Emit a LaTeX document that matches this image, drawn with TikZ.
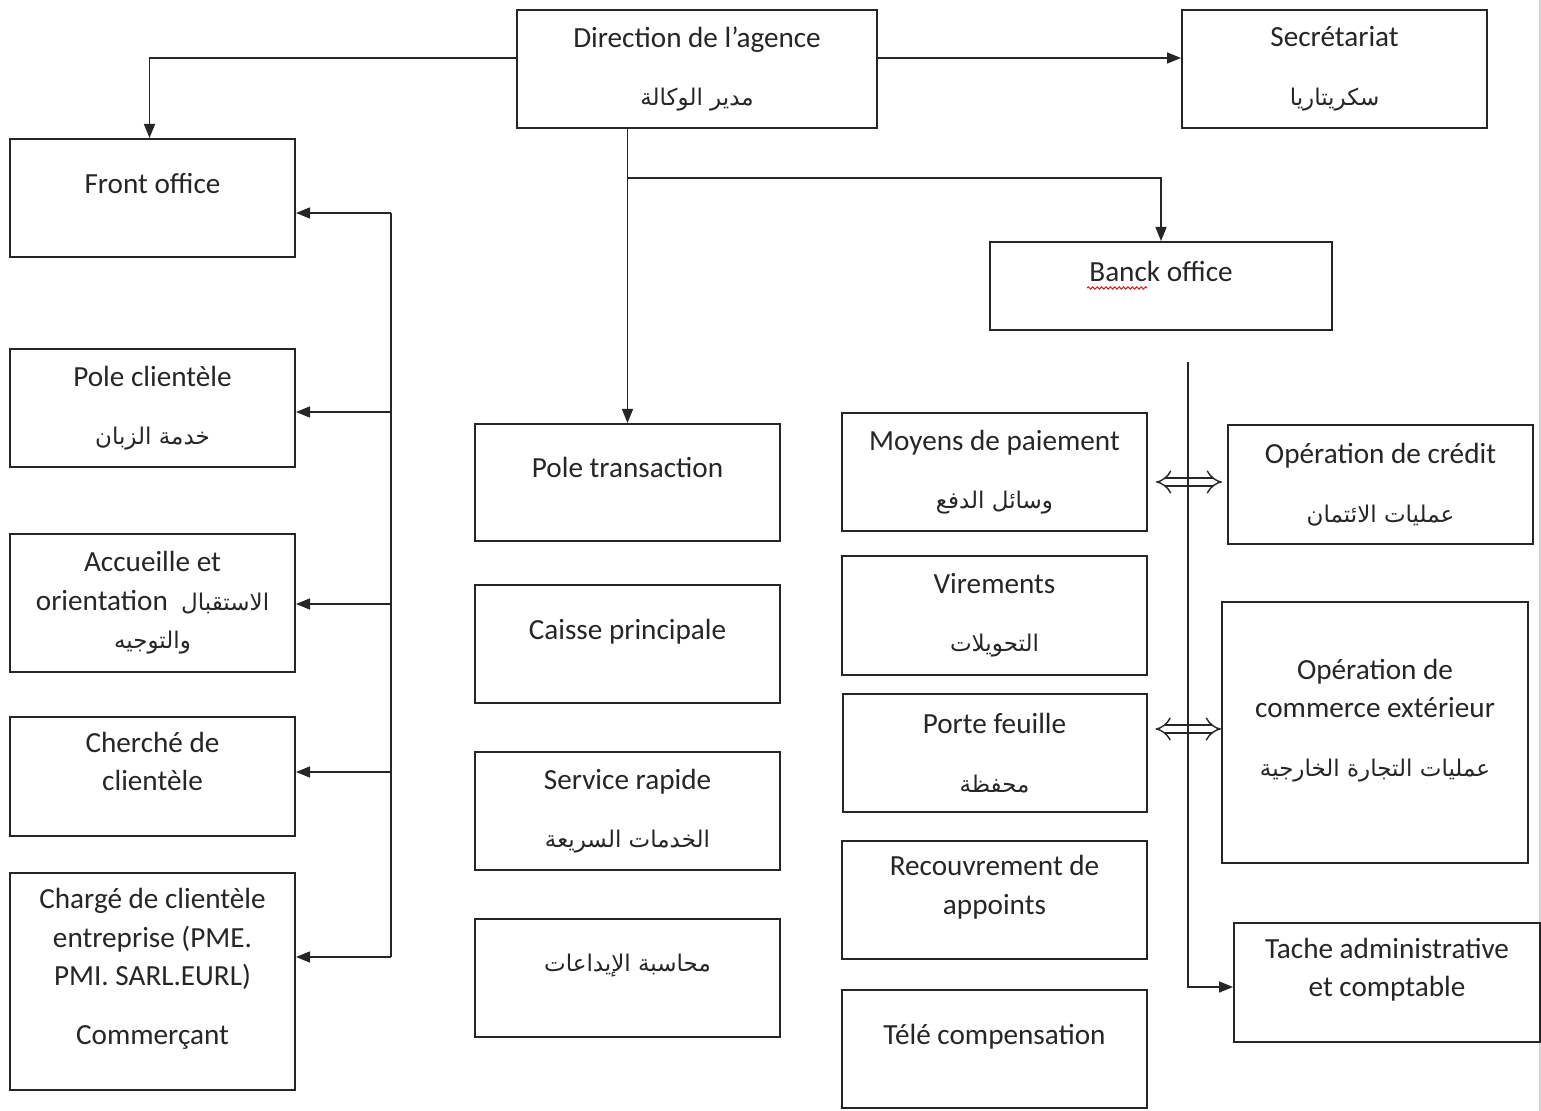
\documentclass[tikz,border=0pt]{standalone}
\usepackage{fontspec}
\setmainfont{Carlito}
\newfontfamily\arabicfont[Script=Arabic]{DejaVu Sans}
\TeXXeTstate=1
\usetikzlibrary{arrows.meta,positioning,calc,decorations.pathmorphing}
\definecolor{frameline}{HTML}{262626}
\definecolor{pageedge}{HTML}{D4D4D4}
\definecolor{spellred}{HTML}{D02020}
\newcommand{\ar}[1]{{\arabicfont\fontsize{11.5}{19.25}\selectfont\beginR #1\endR}}
\newcommand{\lift}{\\[-4.25pt]\mbox{}}

\begin{document}
\begin{tikzpicture}[x=0.5pt,y=-0.5pt,
 box/.style={draw=frameline,line width=1pt,align=center,inner sep=2pt,minimum width=152.5pt,minimum height=59pt,text=frameline,font=\fontsize{14.6}{19.25}\selectfont},
 leftbox/.style={box,minimum width=142.5pt},
 arr/.style={draw=frameline,line width=0.75pt,-{Triangle[length=7pt,width=5.5pt]}},
 line/.style={draw=frameline,line width=0.75pt},
 dbl/.style={draw=frameline,line width=0.7pt,double,double distance=3.4pt,{Implies[length=6pt,width=13pt]}-{Implies[length=6pt,width=13pt]}},
 wavy/.style={draw=spellred,line width=0.5pt,decorate,decoration={snake,amplitude=0.6pt,segment length=2.2pt}}]
\useasboundingbox (0,0) rectangle (1541,1111);
\fill[white] (0,0) rectangle (1541,1111);
\draw[pageedge,line width=1pt] (1540,0) -- (1540,1111);

% top row
\node[box,minimum width=180pt] (dir) at (697,69) {Direction de l’agence\\[10pt]\ar{مدير الوكالة}};
\node[box] (sec) at (1334.5,69) {Secrétariat\\[10pt]\ar{سكريتاريا}};

% front office column
\node[leftbox] (front) at (152.5,198) {Front office\lift};
\node[leftbox,below=45pt of front] (pole) {Pole clientèle\\[10pt]\ar{خدمة الزبان}};
\node[leftbox,minimum height=69pt,below=32.5pt of pole] (acc) {Accueille et\\orientation\ \ \ar{الاستقبال}\\\ar{والتوجيه}};
\node[leftbox,minimum height=59.5pt,below=21.5pt of acc] (cher) {Cherché de\\clientèle\lift};
\node[leftbox,minimum height=108.5pt,below=17.5pt of cher] (charge) {Chargé de clientèle\\entreprise (PME.\\PMI. SARL.EURL)\\[10pt]Commerçant\lift};

% pole transaction column
\node[box,minimum height=58.5pt] (trans) at (627.5,482.5) {Pole transaction\lift};
\node[box,below=21pt of trans] (caisse) {Caisse principale\lift};
\node[box,below=23.5pt of caisse] (rapide) {Service rapide\\[10pt]\ar{الخدمات السريعة}};
\node[box,below=23.5pt of rapide] (compta) {\ar{محاسبة الإيداعات}\lift};

% back office
\node[box,minimum width=171pt,minimum height=44pt] (back) at (1161,286) {Banck office\lift};
\draw[wavy] ($(back.center)+(-74,2)$) -- ($(back.center)+(-14,2)$);
\node[box] (moy) at (994.5,472) {Moyens de paiement\\[10pt]\ar{وسائل الدفع}};
\node[box,minimum height=59.5pt,below=11.5pt of moy] (vir) {Virements\\[10pt]\ar{التحويلات}};
\node[box,minimum width=152pt,below=8.5pt of vir] (porte) {Porte feuille\\[10pt]\ar{محفظة}};
\node[box,below=13.5pt of porte] (recouv) {Recouvrement de\\appoints\lift};
\node[box,below=14.5pt of recouv] (tele) {Télé compensation\lift};
\node[box,minimum height=59.5pt] (credit) at (1380.5,484.5) {Opération de crédit\\[10pt]\ar{عمليات الائتمان}};
\node[box,minimum width=153pt,minimum height=130.5pt] (comm) at (1375,732.5) {Opération de\\commerce extérieur\\[10pt]\ar{عمليات التجارة الخارجية}\lift};
\node[box,minimum width=153pt,minimum height=59.5pt] (tache) at (1387,982.5) {Tache administrative\\et comptable\lift};

% links from the direction
\draw[arr] ([yshift=5.5pt]dir.west) -| ([xshift=-1.5pt]front.north);
\draw[arr] ([yshift=5.5pt]dir.east) -- ([yshift=5.5pt]sec.west);
\draw[arr] (trans.north |- dir.south) -- (trans.north);
\coordinate (split) at (627.5,178);
\draw[arr] (split) -| (back.north);

% front office bus
\coordinate (bus) at (391,0);
\draw[line] ($(bus |- front.east)+(0,15)$) -- ($(bus |- charge.east)+(0,-24.5)$);
\foreach \n/\dy in {front/15,pole/4,acc/1,cher/-4.5,charge/-24.5}
  \draw[arr] ($(bus |- \n.east)+(0,\dy)$) -- ($(\n.east)+(0,\dy)$);

% back office
\draw[dbl] ($(moy.east)+(8,10)$) -- ($(credit.west |- moy.east)+(-5,10)$);
\draw[dbl] ($(porte.east)+(8,-24)$) -- ($(comm.west |- porte.east)+(0,-24)$);
\coordinate (bobus) at (1188,362);
\draw[arr] (bobus) |- ($(tache.west)+(0,4.5)$);
\end{tikzpicture}
\end{document}
